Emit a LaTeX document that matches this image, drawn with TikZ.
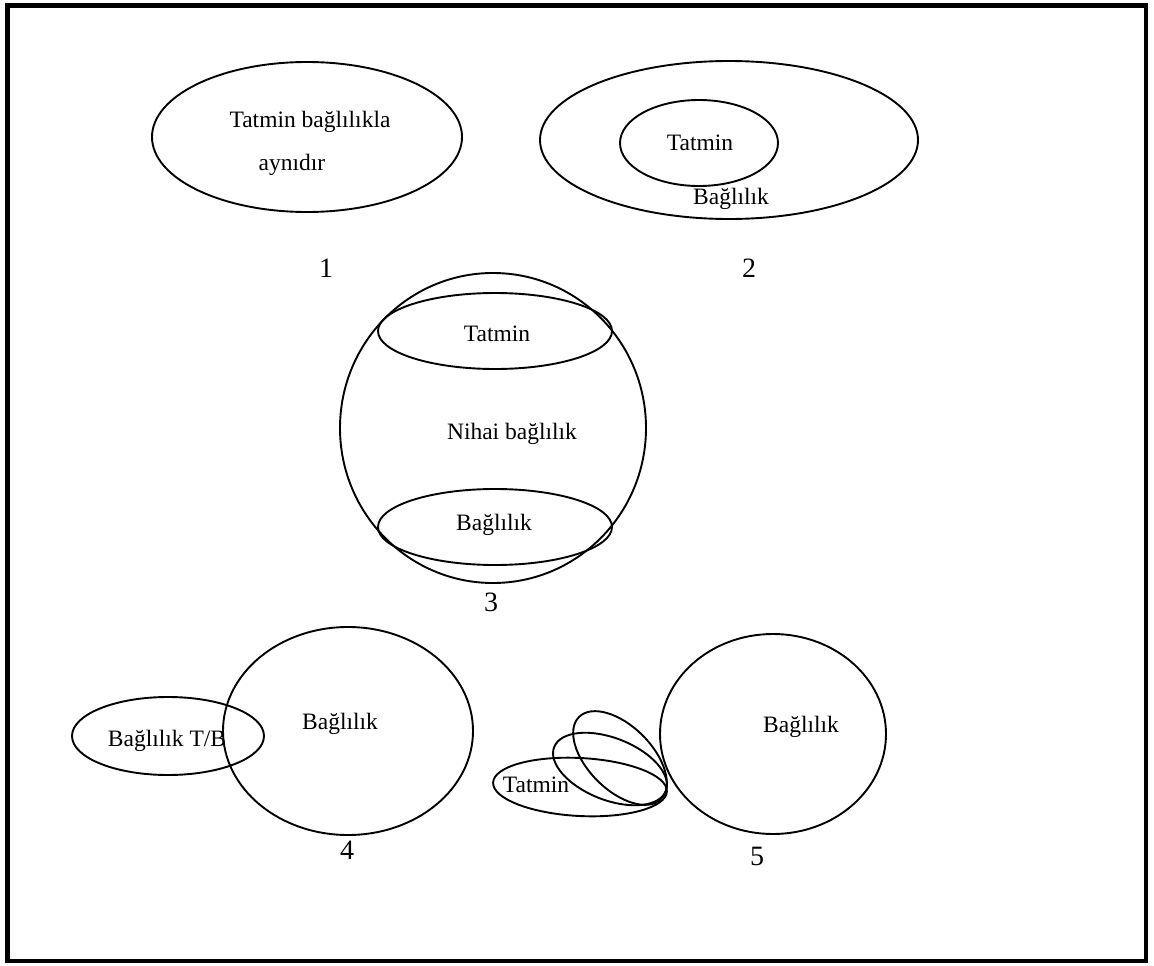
\documentclass[tikz,border=0pt]{standalone}
\usepackage{fontspec}
\setmainfont{Liberation Serif}
\usetikzlibrary{shapes.geometric}
\begin{document}
\begin{tikzpicture}[x=1pt,y=1pt,
  oval/.style={draw,ellipse,line width=1.9pt,inner sep=0pt,minimum width=#1},
  lbl/.style={font=\fontsize{23.5}{26}\selectfont,inner sep=0pt},
  num/.style={font=\fontsize{28}{30}\selectfont,inner sep=0pt}]
\useasboundingbox (0,0) rectangle (1154,-966);
% frame
\draw[line width=4.8pt] (7.5,-5.5) rectangle (1146,-961);

% 1: satisfaction identical to commitment
\node[oval=310pt,minimum height=150pt] (e1) at (307,-137) {};
\node[lbl] (t1a) at (310,-122) {Tatmin bağlılıkla};
\node[lbl] (t1b) at (292,-165) {aynıdır};
\node[num] (n1) at (326,-268) {1};

% 2: satisfaction inside commitment
\node[oval=378pt,minimum height=158pt] (e2) at (729,-140) {};
\node[oval=158pt,minimum height=86pt] (e2i) at (699,-143) {};
\node[lbl] (t2a) at (700,-143) {Tatmin};
\node[lbl] (t2b) at (731,-199) {Bağlılık};
\node[num] (n2) at (749,-268) {2};

% 3: ultimate commitment
\node[oval=306pt,minimum height=310pt] (e3) at (493,-428) {};
\node[oval=234pt,minimum height=76pt] (e3t) at (495,-331) {};
\node[oval=234pt,minimum height=76pt] (e3b) at (495,-527) {};
\node[lbl] (t3a) at (497,-334) {Tatmin};
\node[lbl] (t3b) at (512,-434) {Nihai bağlılık};
\node[lbl] (t3c) at (494,-525) {Bağlılık};
\node[num] (n3) at (491,-602) {3};

% 4
\node[oval=250pt,minimum height=208pt] (e4) at (348,-731) {};
\node[oval=192pt,minimum height=78pt] (e4s) at (168,-736) {};
\node[lbl] (t4a) at (167,-741) {Bağlılık T/B};
\node[lbl] (t4b) at (340,-724) {Bağlılık};
\node[num] (n4) at (347,-850) {4};

% 5
\node[oval=226pt,minimum height=200pt] (e5) at (773,-734) {};
\node[oval=174pt,minimum height=58pt,rotate=-3] (f1) at (580,-787) {};
\node[oval=120pt,minimum height=62pt,rotate=-21.5] (f2) at (610,-769) {};
\node[oval=116pt,minimum height=64pt,rotate=-45] (f3) at (620,-758) {};
\node[lbl] (t5a) at (536,-785) {Tatmin};
\node[lbl] (t5b) at (801,-727) {Bağlılık};
\node[num] (n5) at (757,-856) {5};
\end{tikzpicture}
\end{document}
